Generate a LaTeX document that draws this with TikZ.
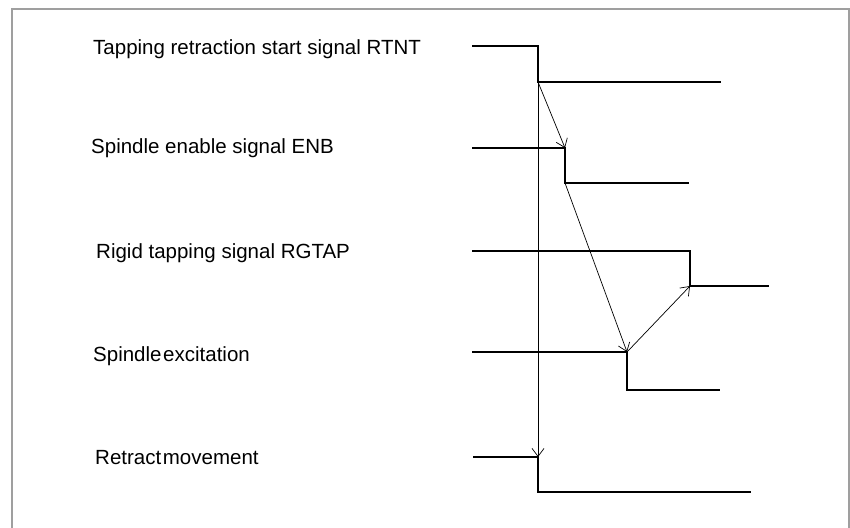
\documentclass[tikz,border=0pt]{standalone}
\usepackage{fontspec}
\setmainfont{Liberation Sans}
\usetikzlibrary{arrows.meta}

\begin{document}
\begin{tikzpicture}[x=1pt, y=-1pt,
        signame/.style={anchor=base west, inner sep=0pt, font=\fontsize{20.5}{24}\selectfont},
        wave/.style={line width=1.8pt, line join=miter},
        cause/.style={-{Straight Barb[length=8pt, width=12pt]}, line width=0.7pt},
        frame/.style={draw=gray!75, line width=2pt}
    ]
        \useasboundingbox (0,0) rectangle (850,527);
        \draw[frame] (12,540) -- (12,9) -- (849,9) -- (849,540);

        \node[signame] (rtnt) at (93,54) {Tapping retraction start signal RTNT};
        \node[signame] (enb) at (91,153) {Spindle enable signal ENB};
        \node[signame] (rgtap) at (96,258) {Rigid tapping signal RGTAP};
        \node[signame] (exc) at (93,361) {Spindle\hspace{0.08em}excitation};
        \node[signame] (ret) at (95,464) {Retract\hspace{0.08em}movement};

        \coordinate (rtnthigh) at (538,46);
        \coordinate (rtntlow) at (538,82);
        \coordinate (enbhigh) at (565,148);
        \coordinate (enblow) at (565,183);
        \coordinate (rgtaphigh) at (690,251);
        \coordinate (rgtaplow) at (690,286);
        \coordinate (exchigh) at (627,352);
        \coordinate (exclow) at (627,390);
        \coordinate (rethigh) at (538,457);
        \coordinate (retlow) at (538,492);

        \draw[wave] (472,46) -- (rtnthigh) -- (rtntlow) -- (721,82);
        \draw[wave] (472,148) -- (enbhigh) -- (enblow) -- (689,183);
        \draw[wave] (472,251) -- (rgtaphigh) -- (rgtaplow) -- (769,286);
        \draw[wave] (472,352) -- (exchigh) -- (exclow) -- (720,390);
        \draw[wave] (473,457) -- (rethigh) -- (retlow) -- (751,492);

        \draw[cause] (rtntlow) -- (enbhigh);
        \draw[cause] (enblow) -- (exchigh);
        \draw[cause] (exchigh) -- (rgtaplow);
        \draw[cause] (rtntlow) -- (rethigh);
    \end{tikzpicture}
\end{document}
